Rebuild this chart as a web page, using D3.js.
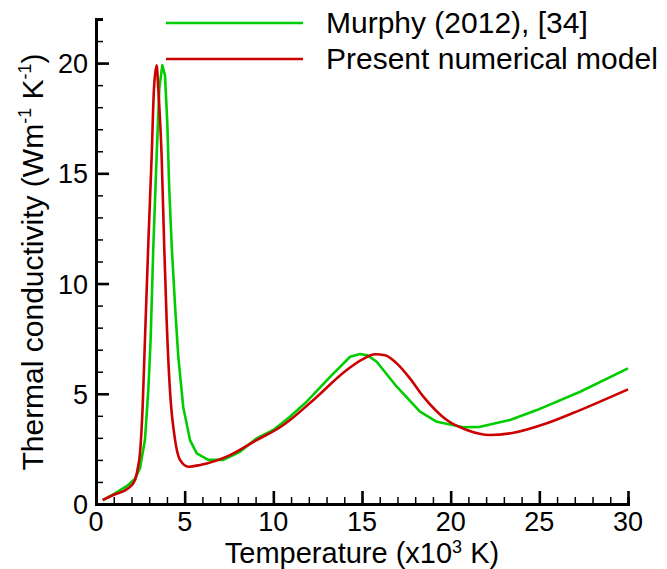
<!DOCTYPE html>
<html>
<head>
<meta charset="utf-8">
<script src="https://cdn.jsdelivr.net/npm/d3@7"></script>
<style>
  body { margin: 0; background: #fff; }
  text { font-family: "Liberation Sans", Arial, sans-serif; fill: #000; }
</style>
</head>
<body>
<div id="chart"></div>
<script>
// Thermal conductivity vs temperature (x10^3 K)
var murphyT = [0.38, 1.0, 1.82, 2.2, 2.48, 2.76, 2.95, 3.08, 3.23, 3.42, 3.57, 3.74, 3.89, 4.02, 4.13, 4.27, 4.46, 4.64, 4.92, 5.3, 5.68, 6.33, 7.18, 8.12, 9.06, 10.0, 10.94, 11.88, 13.2, 14.33, 14.89, 15.3, 15.83, 16.96, 18.27, 19.22, 20.72, 21.66, 23.35, 24.86, 27.3, 30.0];
var murphyK = [0.18, 0.45, 0.86, 1.15, 1.62, 2.9, 5.17, 7.44, 11.6, 15.8, 18.85, 19.9, 19.45, 17.3, 14.3, 11.7, 8.95, 6.68, 4.4, 2.9, 2.3, 2.0, 2.0, 2.37, 2.98, 3.36, 3.96, 4.64, 5.77, 6.68, 6.8, 6.75, 6.45, 5.32, 4.19, 3.73, 3.48, 3.5, 3.81, 4.26, 5.09, 6.15];

var modelT = [0.38, 1.0, 1.82, 2.2, 2.35, 2.48, 2.63, 2.76, 2.95, 3.14, 3.27, 3.42, 3.51, 3.7, 3.85, 3.99, 4.17, 4.46, 4.74, 5.21, 5.87, 7.56, 9.06, 10.38, 10.94, 12.26, 14.14, 15.0, 15.74, 16.3, 16.96, 17.7, 18.46, 19.78, 20.91, 22.22, 23.54, 25.42, 27.3, 30.0];
var modelK = [0.18, 0.42, 0.71, 1.09, 1.6, 2.3, 4.4, 7.44, 11.8, 15.8, 18.85, 19.9, 18.85, 15.8, 11.6, 8.2, 5.17, 2.9, 2.0, 1.69, 1.77, 2.22, 2.9, 3.48, 3.81, 4.72, 6.08, 6.55, 6.79, 6.75, 6.38, 5.7, 4.87, 3.81, 3.36, 3.13, 3.23, 3.66, 4.26, 5.2];

var legendNames = ["Murphy (2012), [34]", "Present numerical model"];
var colors = ["#00cc00", "#cc0000"];

var xTicks = [0, 5, 10, 15, 20, 25, 30];
var yTicks = [0, 5, 10, 15, 20];

var W = 667, H = 569;
var svg = d3.select("#chart").append("svg")
  .attr("width", W).attr("height", H);

var x = d3.scaleLinear().domain([0, 30]).range([96, 628]);
var y = d3.scaleLinear().domain([0, 22]).range([504, 19]);

// curves
var murphy = murphyT.map(function(t, i) { return [t, murphyK[i]]; });
var model = modelT.map(function(t, i) { return [t, modelK[i]]; });

var lineLin = d3.line()
  .x(function(d) { return x(d[0]); })
  .y(function(d) { return y(d[1]); });
var lineSmooth = d3.line()
  .curve(d3.curveMonotoneX)
  .x(function(d) { return x(d[0]); })
  .y(function(d) { return y(d[1]); });

svg.append("path").datum(murphy)
  .attr("d", lineLin)
  .attr("fill", "none").attr("stroke", colors[0])
  .attr("stroke-width", 2.6).attr("stroke-linejoin", "round");
svg.append("path").datum(model)
  .attr("d", lineSmooth)
  .attr("fill", "none").attr("stroke", colors[1])
  .attr("stroke-width", 2.6).attr("stroke-linejoin", "round");

// axes - ticks point inward
var xAxis = svg.append("g").attr("transform", "translate(0," + y(0) + ")");
xAxis.call(d3.axisTop(x).tickValues(d3.range(0, 31, 1)).tickSize(7).tickFormat(""))
  .call(function(g) { g.selectAll("line").attr("stroke-width", 1.5); });
xAxis.append("g")
  .call(d3.axisTop(x).tickValues(xTicks).tickSize(13).tickFormat(""))
  .call(function(g) { g.selectAll("line").attr("stroke-width", 2.6); g.select(".domain").remove(); });
xAxis.selectAll(".domain").attr("stroke-width", 3);
xAxis.selectAll(".xlab").data(xTicks).enter().append("text")
  .attr("class", "xlab")
  .attr("x", function(d) { return x(d); })
  .attr("y", 27)
  .attr("text-anchor", "middle")
  .style("font-size", "27px")
  .text(function(d) { return d; });

var yAxis = svg.append("g").attr("transform", "translate(" + x(0) + ",0)");
yAxis.call(d3.axisRight(y).tickValues(d3.range(0, 23, 1)).tickSize(7).tickFormat(""))
  .call(function(g) { g.selectAll("line").attr("stroke-width", 1.5); });
yAxis.append("g")
  .call(d3.axisRight(y).tickValues(yTicks).tickSize(13).tickFormat(""))
  .call(function(g) { g.selectAll("line").attr("stroke-width", 2.6); g.select(".domain").remove(); });
yAxis.selectAll(".domain").attr("stroke-width", 3);
yAxis.selectAll(".ylab").data(yTicks).enter().append("text")
  .attr("class", "ylab")
  .attr("x", -8)
  .attr("y", function(d) { return y(d) + 10; })
  .attr("text-anchor", "end")
  .style("font-size", "27px")
  .text(function(d) { return d; });

// axis titles
var xt = svg.append("text")
  .attr("x", 362).attr("y", 563)
  .attr("text-anchor", "middle")
  .style("font-size", "29px");
xt.append("tspan").text("Temperature (x10");
xt.append("tspan").attr("dy", -10).style("font-size", "18px").text("3");
xt.append("tspan").attr("dy", 10).text(" K)");

var yt = svg.append("text")
  .attr("transform", "translate(43,262) rotate(-90)")
  .attr("text-anchor", "middle")
  .style("font-size", "30px");
yt.append("tspan").text("Thermal conductivity (Wm");
yt.append("tspan").attr("dy", -12).style("font-size", "18px").text("-1");
yt.append("tspan").attr("dy", 12).text(" K");
yt.append("tspan").attr("dy", -12).style("font-size", "18px").text("-1");
yt.append("tspan").attr("dy", 12).text(")");

// legend
var legend = svg.append("g");
legendNames.forEach(function(name, i) {
  var ly = 23 + i * 36;
  legend.append("line")
    .attr("x1", 166).attr("x2", 303)
    .attr("y1", ly).attr("y2", ly)
    .attr("stroke", colors[i]).attr("stroke-width", 2.6);
  legend.append("text")
    .attr("x", 326).attr("y", ly + 10)
    .style("font-size", "30px")
    .text(name);
});
</script>
</body>
</html>
